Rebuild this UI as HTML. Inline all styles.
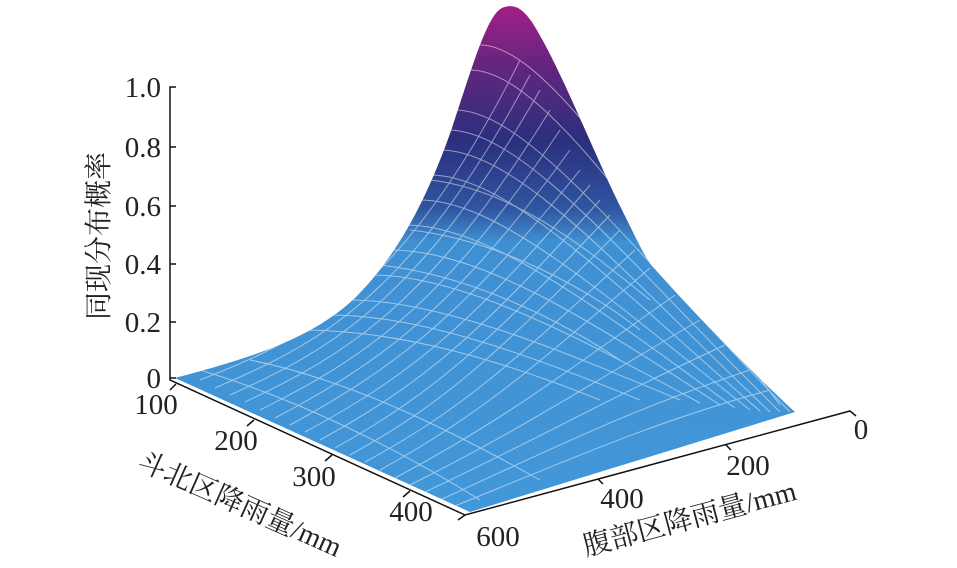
<!DOCTYPE html>
<html><head><meta charset="utf-8"><style>
html,body{margin:0;padding:0;background:#fff;}
svg text{font-family:"Liberation Serif","Noto Serif CJK SC",serif;fill:#222;}
</style></head><body>
<svg width="957" height="563" viewBox="0 0 957 563" xmlns="http://www.w3.org/2000/svg">
<defs>
<linearGradient id="g" x1="0" y1="0" x2="0" y2="563" gradientUnits="userSpaceOnUse">
<stop offset="0" stop-color="#a81f86"/>
<stop offset="0.12" stop-color="#62257f"/>
<stop offset="0.25" stop-color="#2b2f7e"/>
<stop offset="0.37" stop-color="#2f55a0"/>
<stop offset="0.43" stop-color="#3f90d2"/>
<stop offset="1" stop-color="#4399db"/>
</linearGradient>
<clipPath id="c"><path id="s" d="M175,378 C250,358 310,340 355,298 C395,258 425,205 452,128 C472,68 487,15 502,8 C514,3 522,8 532,22 C562,70 592,150 622,210 C637,240 647,262 654,268 C700,320 760,380 795,412 L470,512 Z"/></clipPath>
</defs>
<use href="#s" fill="url(#g)"/>
<g clip-path="url(#c)" stroke="#fff" fill="none" stroke-width="1" opacity="0.5">
<path d="M200,380 C300,340 400,300 520,60"/>
<path d="M215,388 C315,345 410,300 530,75"/>
<path d="M230,395 C330,350 420,300 540,90"/>
<path d="M245,402 C345,355 430,305 550,110"/>
<path d="M260,410 C360,360 440,310 560,130"/>
<path d="M275,418 C375,365 450,315 570,150"/>
<path d="M290,425 C390,370 460,320 580,170"/>
<path d="M305,432 C405,378 470,328 590,185"/>
<path d="M320,440 C420,385 480,335 600,200"/>
<path d="M335,448 C435,392 490,342 610,215"/>
<path d="M350,455 C450,400 500,350 620,230"/>
<path d="M365,462 C465,408 515,360 635,250"/>
<path d="M380,470 C480,415 530,370 650,268"/>
<path d="M395,478 C500,422 555,380 675,295"/>
<path d="M410,485 C520,430 580,390 700,320"/>
<path d="M425,492 C540,438 605,400 725,345"/>
<path d="M440,500 C560,445 630,410 750,370"/>
<path d="M455,506 C580,455 660,420 770,390"/>
<path d="M300,330 C400,330 500,360 600,400"/>
<path d="M330,315 C420,315 530,355 640,400"/>
<path d="M350,300 C440,300 560,350 680,400"/>
<path d="M372,275 C460,275 575,335 700,403"/>
<path d="M390,250 C480,250 590,320 720,405"/>
<path d="M405,225 C490,225 600,310 735,408"/>
<path d="M420,200 C500,200 610,300 750,410"/>
<path d="M430,175 C510,175 620,290 760,411"/>
<path d="M440,150 C520,150 630,280 770,412"/>
<path d="M448,130 C525,130 635,270 780,412"/>
<path d="M455,110 C530,110 640,260 790,412"/>
<path d="M470,70 C540,70 640,220 780,405"/>
<path d="M480,45 C545,45 645,200 790,405"/>
<path d="M250,360 C350,380 450,430 540,480"/>
<path d="M200,370 C300,400 400,450 480,500"/>
<path d="M430,180 C520,190 600,260 650,300"/>
<path d="M410,230 C500,240 590,290 640,330"/>
<path d="M380,265 C470,275 560,320 620,360"/>
</g>
<g stroke="#111" stroke-width="1.5" fill="none">
<path d="M176,87 L170,87 L170,380 L465,515 L850,411 L856,416"/>
<path d="M170,147 L176,147 M170,206 L176,206 M170,264 L176,264 M170,322 L176,322 M170,378 L176,378"/>
<path d="M176,384 L170,390 M254,420 L247,426 M332,455 L325,461 M410,491 L403,497 M465,515 L458,520"/>
<path d="M598,479 L603,484 M726,445 L731,450"/>
</g>
<g font-size="29" text-anchor="end">
<text x="161" y="97">1.0</text>
<text x="161" y="157">0.8</text>
<text x="161" y="216">0.6</text>
<text x="161" y="274">0.4</text>
<text x="161" y="332">0.2</text>
<text x="161" y="388">0</text>
</g>
<g font-size="29" text-anchor="middle">
<text x="156" y="414">100</text>
<text x="236" y="450">200</text>
<text x="314" y="486">300</text>
<text x="411" y="521">400</text>
<text x="498" y="546">600</text>
<text x="622" y="508">400</text>
<text x="748" y="475">200</text>
<text x="861" y="439">0</text>
</g>
<text font-size="28" transform="translate(108,320) rotate(-90)">同现分布概率</text>
<text font-size="28" transform="translate(136,468) rotate(24)">斗北区降雨量/mm</text>
<text font-size="28" transform="translate(586,556) rotate(-15)">腹部区降雨量/mm</text>
</svg>
</body></html>
